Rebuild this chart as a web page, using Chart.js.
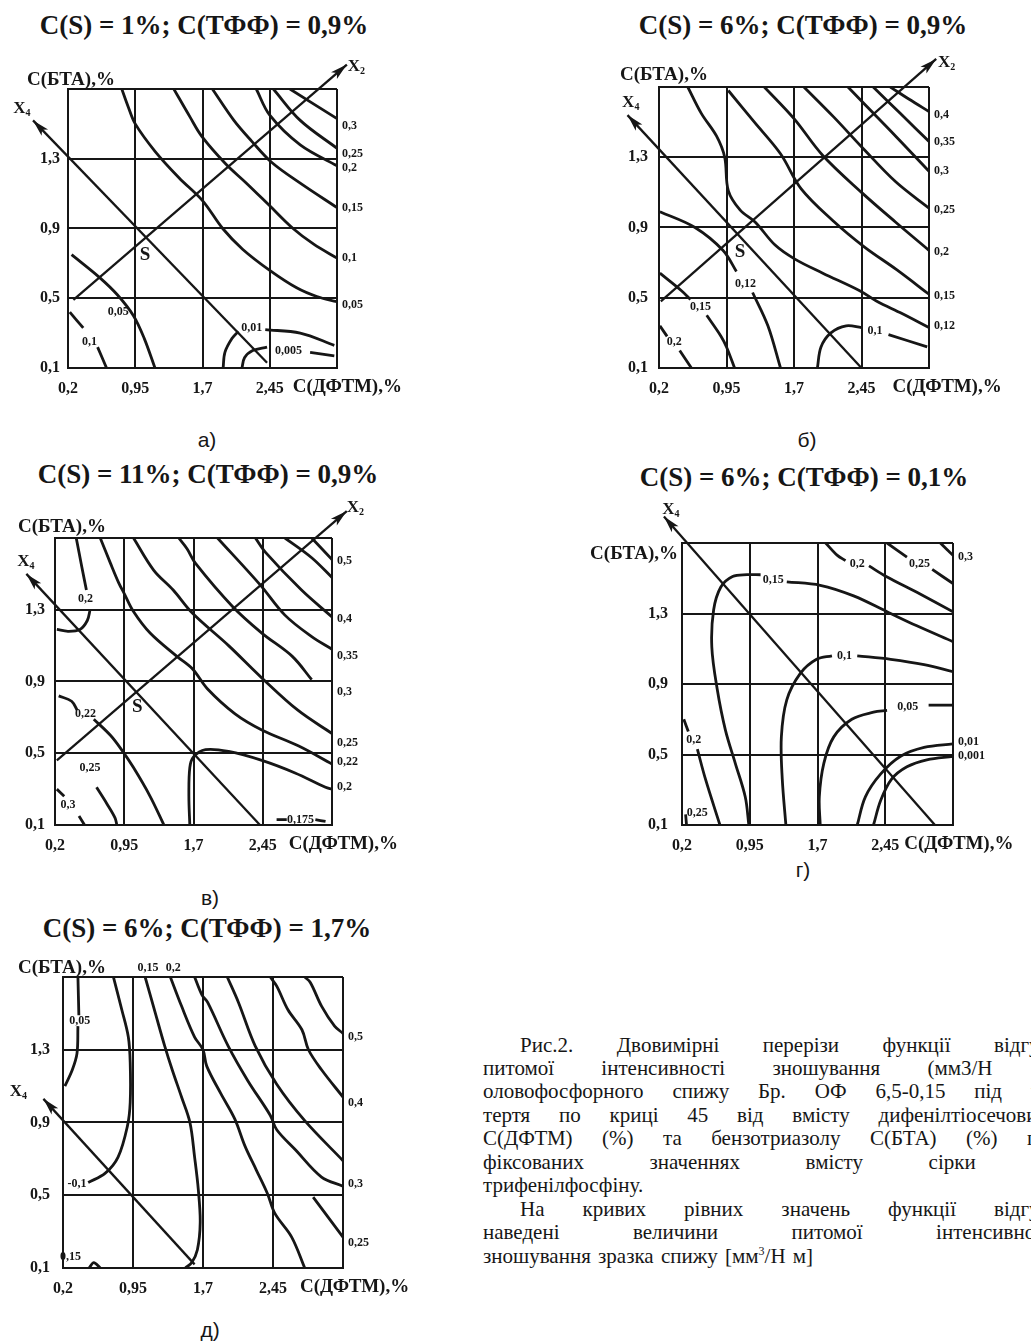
<!DOCTYPE html>
<html lang="uk">
<head>
<meta charset="utf-8">
<title>Рис.2</title>
<script src="https://cdn.jsdelivr.net/npm/chart.js@4.4.1/dist/chart.umd.min.js"></script>
<style>
  html, body { margin: 0; padding: 0; background: #fff; }
  #page { position: relative; width: 1031px; height: 1342px; overflow: hidden; background: #fff; }
  canvas { position: absolute; }
  .title { position: absolute; font: bold 27px "Liberation Serif", serif; color: #161616; white-space: nowrap; transform: translate(-50%, -50%); }
  .cap { position: absolute; font: 21px "Liberation Sans", sans-serif; color: #161616; transform: translate(-50%, -50%); }
  .txt { position: absolute; left: 483px; width: 577px; height: 24px; line-height: 24px; font: 21px "Liberation Serif", serif; color: #161616;
         text-align: justify; text-align-last: justify; }
  .txt.ind { left: 520px; width: 540px; }
  .txt.end { text-align-last: left; word-spacing: 2px; }
</style>
</head>
<body>
<div id="page">
  <div class="title" style="left:204px;top:25px">C(S) = 1%; C(ТФФ) = 0,9%</div>
  <div class="title" style="left:803px;top:25px">C(S) = 6%; C(ТФФ) = 0,9%</div>
  <div class="title" style="left:208px;top:474px">C(S) = 11%; C(ТФФ) = 0,9%</div>
  <div class="title" style="left:804px;top:477px">C(S) = 6%; C(ТФФ) = 0,1%</div>
  <div class="title" style="left:207px;top:928px">C(S) = 6%; C(ТФФ) = 1,7%</div>

  <div class="cap" style="left:207px;top:440px">а)</div>
  <div class="cap" style="left:807px;top:440px">б)</div>
  <div class="cap" style="left:210px;top:898px">в)</div>
  <div class="cap" style="left:803px;top:870px">г)</div>
  <div class="cap" style="left:210px;top:1330px">д)</div>

  <canvas id="cA" width="420" height="370" style="left:0;top:40px"></canvas>
  <canvas id="cB" width="471" height="370" style="left:560px;top:40px"></canvas>
  <canvas id="cC" width="420" height="370" style="left:0;top:490px"></canvas>
  <canvas id="cD" width="491" height="370" style="left:540px;top:490px"></canvas>
  <canvas id="cE" width="420" height="365" style="left:0;top:940px"></canvas>

  <div class="txt ind" style="top:1033px">Рис.2. Двовимірні перерізи функції відгуку</div>
  <div class="txt" style="top:1056px">питомої інтенсивності зношування (мм3/Н м)</div>
  <div class="txt" style="top:1079px">оловофосфорного спижу Бр. ОФ 6,5-0,15 під час</div>
  <div class="txt" style="top:1103px">тертя по криці 45 від вмісту дифенілтіосечовини</div>
  <div class="txt" style="top:1126px">С(ДФТМ) (%) та бензотриазолу С(БТА) (%) при</div>
  <div class="txt" style="top:1150px">фіксованих значеннях вмісту сірки та</div>
  <div class="txt end" style="top:1173px">трифенілфосфіну.</div>
  <div class="txt ind" style="top:1197px">На кривих рівних значень функції відгуку</div>
  <div class="txt" style="top:1220px">наведені величини питомої інтенсивності</div>
  <div class="txt end" style="top:1244px">зношування зразка спижу [мм<sup style="font-size:12px;line-height:0">3</sup>/Н м]</div>
</div>

<script>
// axes: C(ДФТМ) on x, C(БТА) on y
const xTicks = [0.2, 0.95, 1.7, 2.45, 3.2];
const xTickText = ['0,2', '0,95', '1,7', '2,45', ''];
const yTicks = [0.1, 0.5, 0.9, 1.3, 1.7];
const yTickText = ['0,1', '0,5', '0,9', '1,3', ''];

// --- а) C(S)=1%, C(ТФФ)=0,9% ---
const curvesA = [
  [[0.80,1.70],[0.87,1.60],[0.95,1.50],[1.175,1.34],[1.44,1.19],[1.70,1.06],[1.925,0.90],[2.15,0.78],[2.45,0.66],[2.75,0.56],[2.975,0.51],[3.2,0.48]],
  [[1.38,1.70],[1.56,1.54],[1.69,1.43],[1.96,1.27],[2.19,1.16],[2.45,1.03],[2.71,0.90],[2.94,0.81],[3.2,0.73]],
  [[1.81,1.70],[2.05,1.52],[2.25,1.40],[2.47,1.28],[2.79,1.16],[3.2,1.02]],
  [[2.30,1.70],[2.45,1.55],[2.79,1.38],[3.2,1.26]],
  [[2.49,1.70],[2.79,1.52],[3.2,1.36]],
  [[2.675,1.70],[3.2,1.53]],
  [[0.24,0.75],[0.55,0.62],[0.75,0.52],[0.93,0.40],[1.05,0.27],[1.17,0.10]],
  [[0.22,0.42],[0.37,0.33]],
  [[0.53,0.22],[0.63,0.10]],
  [[1.93,0.10],[1.95,0.19],[2.03,0.27],[2.10,0.31]],
  [[2.40,0.32],[2.79,0.30],[3.17,0.23]],
  [[2.14,0.10],[2.17,0.16],[2.26,0.20],[2.42,0.22]],
  [[2.90,0.19],[3.17,0.17]]
];
const x2A = [[3.31,1.84],[0.26,0.49]];
const x4A = [[-0.19,1.52],[2.42,0.13]];
const rightA = [['0,3',1.49],['0,25',1.33],['0,2',1.25],['0,15',1.02],['0,1',0.73],['0,05',0.46]];
const innerA = [['0,05',0.76,0.42],['0,1',0.44,0.25],['0,01',2.25,0.33],['0,005',2.66,0.20]];
const sA = [1.06, 0.75];
const xNamesA = [['2',3.32,1.83],['4',-0.41,1.59]];

// --- б) C(S)=6%, C(ТФФ)=0,9% ---
const curvesB = [
  [[2.77,1.70],[2.98,1.63],[3.2,1.56]],
  [[2.58,1.70],[2.88,1.55],[3.2,1.39]],
  [[2.30,1.70],[2.45,1.62],[2.83,1.42],[3.2,1.22]],
  [[1.81,1.70],[2.14,1.53],[2.45,1.36],[2.83,1.16],[3.2,1.01]],
  [[1.37,1.70],[1.70,1.52],[2.02,1.31],[2.45,1.10],[2.83,0.93],[3.2,0.77]],
  [[0.97,1.68],[1.26,1.50],[1.55,1.32],[1.78,1.12],[2.13,0.94],[2.48,0.79],[2.84,0.66],[3.2,0.52]],
  [[0.52,1.70],[0.67,1.55],[0.84,1.42],[0.93,1.30],[0.97,1.11],[1.10,1.00],[1.27,0.93],[1.49,0.80],[1.71,0.72],[2.02,0.64],[2.43,0.54],[2.62,0.48],[2.90,0.41],[3.2,0.33]],
  [[0.21,0.99],[0.60,0.90],[0.91,0.77],[1.06,0.65]],
  [[1.24,0.53],[1.41,0.34],[1.55,0.10]],
  [[0.21,0.64],[0.45,0.54],[0.55,0.49]],
  [[0.73,0.40],[0.89,0.28],[0.95,0.22],[1.04,0.10]],
  [[0.21,0.34],[0.29,0.28]],
  [[0.43,0.20],[0.56,0.10]],
  [[1.96,0.10],[2.00,0.22],[2.11,0.30],[2.28,0.34],[2.45,0.33]],
  [[2.75,0.29],[3.18,0.22]]
];
const x2B = [[3.28,1.86],[0.22,0.48]];
const x4B = [[-0.15,1.54],[2.45,0.10]];
const rightB = [['0,4',1.54],['0,35',1.39],['0,3',1.22],['0,25',1.00],['0,2',0.76],['0,15',0.51],['0,12',0.34]];
const innerB = [['0,12',1.16,0.58],['0,15',0.66,0.45],['0,2',0.37,0.25],['0,1',2.60,0.31]];
const sB = [1.10, 0.76];
const xNamesB = [['2',3.30,1.84],['4',-0.21,1.61]];

// --- в) C(S)=11%, C(ТФФ)=0,9% ---
const curvesC = [
  [[0.43,1.70],[0.49,1.54],[0.54,1.41]],
  [[0.22,1.19],[0.34,1.18],[0.47,1.19],[0.55,1.24],[0.58,1.30]],
  [[0.69,1.70],[0.80,1.56],[0.89,1.45],[0.95,1.39],[1.05,1.29],[1.23,1.17],[1.52,1.04],[1.69,0.97],[1.85,0.86],[2.15,0.72],[2.44,0.63],[2.84,0.54],[3.2,0.44]],
  [[1.05,1.70],[1.27,1.52],[1.48,1.41],[1.69,1.28],[2.08,1.10],[2.44,0.92],[2.83,0.74],[3.2,0.61]],
  [[1.54,1.70],[1.63,1.64],[1.72,1.56],[2.12,1.32],[2.44,1.17],[2.77,1.04],[2.98,0.91]],
  [[1.96,1.70],[2.42,1.44],[2.69,1.27],[2.98,1.15],[3.2,1.08]],
  [[2.37,1.70],[2.48,1.62],[2.87,1.41],[3.2,1.26]],
  [[2.69,1.70],[2.98,1.59],[3.2,1.48]],
  [[2.98,1.70],[3.2,1.58]],
  [[1.66,0.10],[1.65,0.26],[1.66,0.42],[1.70,0.48],[1.83,0.52],[2.08,0.51],[2.44,0.46],[2.80,0.39],[3.13,0.31],[3.2,0.30]],
  [[0.24,0.82],[0.38,0.79],[0.44,0.74]],
  [[0.62,0.69],[0.80,0.60],[0.92,0.52],[1.05,0.42],[1.23,0.26],[1.38,0.10]],
  [[0.65,0.31],[0.76,0.22],[0.85,0.14],[0.87,0.10]],
  [[0.22,0.30],[0.30,0.26]],
  [[0.46,0.15],[0.52,0.10]],
  [[2.60,0.13],[2.71,0.13]],
  [[3.02,0.13],[3.13,0.12]]
];
const x2C = [[3.36,1.85],[0.22,0.46]];
const x4C = [[-0.11,1.50],[2.42,0.10]];
const rightC = [['0,5',1.57],['0,4',1.25],['0,35',1.04],['0,3',0.84],['0,25',0.56],['0,22',0.45],['0,2',0.31]];
const innerC = [['0,2',0.53,1.36],['0,22',0.53,0.72],['0,25',0.58,0.42],['0,3',0.34,0.21],['0,175',2.86,0.13]];
const sC = [1.09, 0.76];
const xNamesC = [['2',3.36,1.87],['4',-0.21,1.57]];

// --- г) C(S)=6%, C(ТФФ)=0,1% ---
const curvesD = [
  [[0.94,0.10],[0.90,0.26],[0.79,0.45],[0.68,0.64],[0.59,0.87],[0.53,1.11],[0.55,1.32],[0.63,1.45],[0.76,1.51],[0.92,1.52],[1.07,1.52]],
  [[1.36,1.48],[1.73,1.46],[2.10,1.40],[2.47,1.31],[2.80,1.23],[3.2,1.14]],
  [[1.79,1.70],[1.92,1.63],[2.01,1.60]],
  [[2.27,1.57],[2.46,1.51],[2.80,1.42],[3.2,1.31]],
  [[2.47,1.70],[2.69,1.62]],
  [[2.97,1.55],[3.2,1.47]],
  [[3.06,1.70],[3.2,1.63]],
  [[1.35,0.10],[1.31,0.36],[1.30,0.60],[1.36,0.81],[1.51,0.96],[1.69,1.04],[1.86,1.06]],
  [[2.14,1.06],[2.51,1.04],[2.88,1.01],[3.2,0.97]],
  [[1.73,0.10],[1.72,0.26],[1.77,0.45],[1.88,0.60],[2.08,0.70],[2.32,0.74],[2.47,0.75]],
  [[2.93,0.78],[3.2,0.78]],
  [[2.14,0.10],[2.23,0.26],[2.40,0.39],[2.62,0.49],[2.88,0.54],[3.2,0.56]],
  [[2.32,0.10],[2.40,0.24],[2.52,0.36],[2.69,0.43],[2.91,0.47],[3.2,0.49]],
  [[0.22,0.70],[0.27,0.63]],
  [[0.37,0.53],[0.46,0.36],[0.62,0.10]],
  [[0.24,0.16],[0.25,0.10]]
];
const x4D = [[0.0,1.85],[3.0,0.10]];
const rightD = [['0,3',1.62],['0,01',0.57],['0,001',0.49]];
const innerD = [['0,15',1.21,1.49],['0,2',2.14,1.58],['0,25',2.83,1.58],['0,1',2.0,1.06],['0,05',2.70,0.77],['0,2',0.33,0.58],['0,25',0.37,0.17]];
const xNamesD = [['4',-0.02,1.89]];

// --- д) C(S)=6%, C(ТФФ)=1,7% ---
const curvesE = [
  [[0.36,1.70],[0.37,1.49]],
  [[0.36,1.43],[0.35,1.28],[0.30,1.19],[0.22,1.10]],
  [[0.74,1.70],[0.83,1.52],[0.90,1.37],[0.92,1.23],[0.92,1.01],[0.89,0.88],[0.79,0.71],[0.65,0.62],[0.47,0.57]],
  [[1.08,1.70],[1.19,1.50],[1.29,1.32],[1.37,1.19],[1.47,1.04],[1.56,0.90],[1.61,0.71],[1.65,0.53],[1.67,0.35],[1.64,0.20],[1.58,0.13],[1.51,0.10]],
  [[1.35,1.70],[1.47,1.54],[1.61,1.37],[1.70,1.30],[1.74,1.21],[1.89,1.06],[2.04,0.92],[2.15,0.77],[2.27,0.64],[2.39,0.51],[2.47,0.40],[2.65,0.27],[2.79,0.10]],
  [[1.61,1.70],[1.69,1.60],[1.75,1.56],[1.97,1.32],[2.18,1.13],[2.42,0.94],[2.49,0.86],[2.69,0.75],[2.97,0.60],[3.2,0.55]],
  [[1.96,1.70],[2.08,1.56],[2.26,1.32],[2.49,1.11],[2.79,0.91],[3.2,0.69]],
  [[2.42,1.70],[2.49,1.65],[2.61,1.52],[2.76,1.41],[2.83,1.30],[2.97,1.19],[3.2,1.04]],
  [[2.79,1.70],[2.85,1.67],[2.97,1.54],[3.11,1.43],[3.2,1.39]],
  [[2.88,0.49],[3.04,0.38],[3.2,0.27]],
  [[0.48,0.10],[0.53,0.13],[0.60,0.10]]
];
const x4E = [[-0.01,1.03],[1.61,0.12]];
const rightE = [['0,5',1.37],['0,4',1.01],['0,3',0.56],['0,25',0.24]];
const innerE = [['0,05',0.38,1.46],['-0,1',0.35,0.56],['0,15',0.28,0.16],['0,15',1.11,1.75],['0,2',1.38,1.75]];
const xNamesE = [['4',-0.37,1.07]];

const INK = '#161616';
Chart.defaults.font.family = '"Liberation Serif", serif';

// text, arrow heads and axis names drawn over the plot
const panelText = {
  id: 'panelText',
  afterDatasetsDraw(chart, args, o) {
    const { ctx, chartArea: a, scales: { x, y } } = chart;
    const px = v => x.getPixelForValue(v), py = v => y.getPixelForValue(v);
    ctx.save();
    ctx.fillStyle = INK;

    (o.arrows || []).forEach(([tip, tail]) => {
      const tx = px(tip[0]), ty = py(tip[1]);
      const ang = Math.atan2(ty - py(tail[1]), tx - px(tail[0]));
      ctx.save();
      ctx.translate(tx, ty);
      ctx.rotate(ang);
      ctx.beginPath();
      ctx.moveTo(0, 0); ctx.lineTo(-17, -4.5); ctx.lineTo(-13, 0); ctx.lineTo(-17, 4.5);
      ctx.closePath(); ctx.fill();
      ctx.restore();
    });

    ctx.textBaseline = 'middle';
    ctx.font = 'bold 12px "Liberation Serif"';
    ctx.textAlign = 'left';
    (o.right || []).forEach(([t, v]) => ctx.fillText(t, a.right + 5, py(v)));
    ctx.textAlign = 'center';
    (o.inner || []).forEach(([t, vx, vy]) => ctx.fillText(t, px(vx), py(vy)));

    if (o.s) {
      ctx.font = 'bold 19px "Liberation Serif"';
      ctx.fillText('S', px(o.s[0]), py(o.s[1]));
    }

    ctx.textAlign = 'left';
    (o.xNames || []).forEach(([n, vx, vy]) => {
      ctx.font = 'bold 17px "Liberation Serif"';
      ctx.fillText('X', px(vx), py(vy));
      const w = ctx.measureText('X').width;
      ctx.font = 'bold 10px "Liberation Serif"';
      ctx.fillText(n, px(vx) + w, py(vy) + 5);
    });

    ctx.font = 'bold 19px "Liberation Serif"';
    ctx.fillText('C(ДФТМ),%', px(2.45) + o.xNameGap, a.bottom + 19);
    ctx.textAlign = o.yName.align || 'left';
    ctx.fillText('C(БТА),%', a.left + o.yName.dx, a.top + o.yName.dy);
    ctx.restore();
  }
};

function line(pts, width, clip) {
  return {
    data: pts.map(([x, y]) => ({ x, y })),
    showLine: true, borderColor: INK, borderWidth: width,
    pointRadius: 0, tension: clip ? 0.35 : 0, fill: false,
    clip: clip ? undefined : false
  };
}

function makePanel(id, lay, curves, axes, right, inner, s, xNames) {
  const cv = document.getElementById(id);
  const W = cv.width, H = cv.height, yW = 50, xH = 30;
  const tickFont = { family: '"Liberation Serif"', weight: 'bold', size: 16 };
  const datasets = curves.map(c => line(c, 2.8, true)).concat(axes.map(l => line(l, 2.3, false)));
  new Chart(cv, {
    type: 'scatter',
    data: { datasets },
    options: {
      responsive: false, animation: false, devicePixelRatio: 1, events: [],
      layout: { padding: {
        left: lay.L - lay.cx - yW, top: lay.T - lay.cy,
        right: lay.cx + W - lay.R, bottom: lay.cy + H - lay.B - xH } },
      plugins: {
        legend: { display: false }, tooltip: { enabled: false },
        panelText: { arrows: axes, right, inner, s, xNames, xNameGap: lay.xGap, yName: lay.yName }
      },
      scales: {
        x: {
          type: 'linear', min: 0.2, max: 3.2,
          afterBuildTicks: sc => { sc.ticks = xTicks.map(v => ({ value: v })); },
          afterFit: sc => { sc.height = xH; },
          grid: { color: INK, lineWidth: 2, drawTicks: false },
          border: { color: INK, width: 2 },
          ticks: { autoSkip: false, maxRotation: 0, padding: 11, color: INK, font: tickFont,
                   callback: (v, i) => xTickText[i] }
        },
        y: {
          type: 'linear', min: 0.1, max: 1.7,
          afterBuildTicks: sc => { sc.ticks = yTicks.map(v => ({ value: v })); },
          afterFit: sc => { sc.width = yW; },
          grid: { color: INK, lineWidth: 2, drawTicks: false },
          border: { color: INK, width: 2 },
          ticks: { autoSkip: false, padding: lay.yPad, color: INK, font: tickFont,
                   callback: (v, i) => yTickText[i] }
        }
      }
    },
    plugins: [panelText]
  });
}

makePanel('cA', { cx: 0, cy: 40, L: 68, T: 89, R: 337, B: 368, yPad: 8, xGap: 23, yName: { dx: -41, dy: -9 } },
  curvesA, [x2A, x4A], rightA, innerA, sA, xNamesA);
makePanel('cB', { cx: 560, cy: 40, L: 659, T: 87, R: 929, B: 368, yPad: 11, xGap: 31, yName: { dx: -39, dy: -12 } },
  curvesB, [x2B, x4B], rightB, innerB, sB, xNamesB);
makePanel('cC', { cx: 0, cy: 490, L: 55, T: 538, R: 332, B: 825, yPad: 10, xGap: 26, yName: { dx: -37, dy: -11 } },
  curvesC, [x2C, x4C], rightC, innerC, sC, xNamesC);
makePanel('cD', { cx: 540, cy: 490, L: 682, T: 543, R: 953, B: 825, yPad: 14, xGap: 19, yName: { dx: -4, dy: 11, align: 'right' } },
  curvesD, [x4D], rightD, innerD, null, xNamesD);
makePanel('cE', { cx: 0, cy: 940, L: 63, T: 977, R: 343, B: 1268, yPad: 13, xGap: 27, yName: { dx: -45, dy: -9 } },
  curvesE, [x4E], rightE, innerE, null, xNamesE);
</script>
</body>
</html>
